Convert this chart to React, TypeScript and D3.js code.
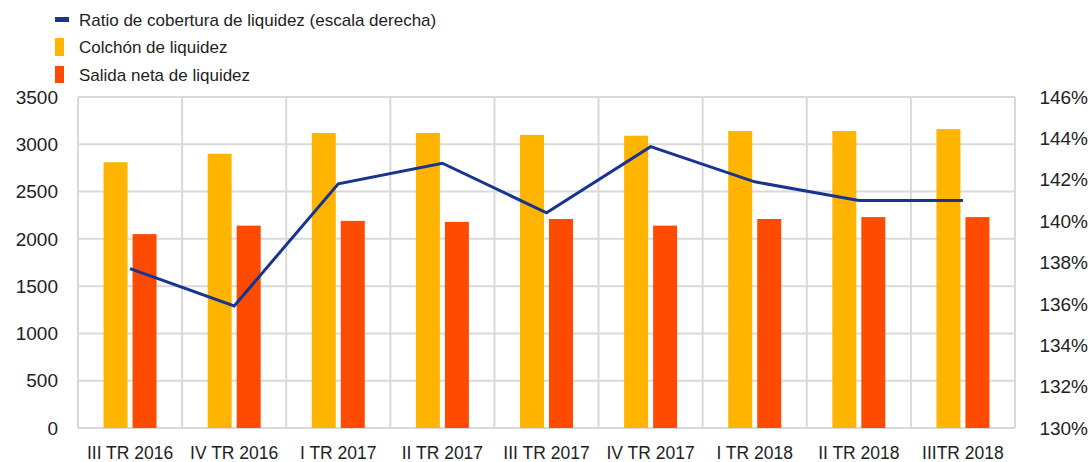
import React from "react";
import * as d3 from "d3";

const categories = [
  "III TR 2016",
  "IV TR 2016",
  "I TR 2017",
  "II TR 2017",
  "III TR 2017",
  "IV TR 2017",
  "I TR 2018",
  "II TR 2018",
  "IIITR 2018",
];
const colchon = [2810, 2900, 3120, 3120, 3100, 3090, 3140, 3140, 3160];
const salida = [2050, 2140, 2190, 2180, 2210, 2140, 2210, 2230, 2230];
const ratio = [137.7, 135.9, 141.8, 142.8, 140.4, 143.6, 141.9, 141.0, 141.0];
const leftTicks = [0, 500, 1000, 1500, 2000, 2500, 3000, 3500];
const rightTicks = [130, 132, 134, 136, 138, 140, 142, 144, 146];

const width = 1092;
const height = 462;
const margin = { top: 97, right: 77, bottom: 34, left: 78 };

const YELLOW = "#FFB400";
const RED = "#FF4B00";
const BLUE = "#17358f";
const GRID = "#d9d9d9";
const TEXT = "#222";
const FONT = "Liberation Sans, Arial, sans-serif";

export default function App() {
  const x = d3
    .scaleBand()
    .domain(categories)
    .range([margin.left, width - margin.right]);

  const y = d3
    .scaleLinear()
    .domain([0, 3500])
    .range([height - margin.bottom, margin.top]);

  const y2 = d3
    .scaleLinear()
    .domain([130, 146])
    .range([height - margin.bottom, margin.top]);

  const barW = 24;
  const gap = 5;
  const center = (c) => x(c) + x.bandwidth() / 2;

  const line = d3
    .line()
    .x((d, i) => center(categories[i]))
    .y((d) => y2(d));

  const bottom = height - margin.bottom;

  return (
    <svg
      width={width}
      height={height}
      style={{ position: "absolute", left: 0, top: 0, background: "#fff" }}
      fontFamily={FONT}
    >
      {/* grid */}
      {leftTicks.map((t) => (
        <line
          key={"h" + t}
          x1={margin.left}
          x2={width - margin.right}
          y1={y(t)}
          y2={y(t)}
          stroke={GRID}
          strokeWidth={2}
        />
      ))}
      {categories.map((c) => (
        <line
          key={"v" + c}
          x1={x(c)}
          x2={x(c)}
          y1={margin.top}
          y2={bottom}
          stroke={GRID}
          strokeWidth={2}
        />
      ))}
      <line
        x1={width - margin.right}
        x2={width - margin.right}
        y1={margin.top}
        y2={bottom}
        stroke={GRID}
        strokeWidth={2}
      />

      {/* bars */}
      {categories.map((c, i) => (
        <g key={"b" + c}>
          <rect
            x={center(c) - gap / 2 - barW}
            y={y(colchon[i])}
            width={barW}
            height={bottom - y(colchon[i])}
            fill={YELLOW}
          />
          <rect
            x={center(c) + gap / 2}
            y={y(salida[i])}
            width={barW}
            height={bottom - y(salida[i])}
            fill={RED}
          />
        </g>
      ))}

      <path d={line(ratio)} fill="none" stroke={BLUE} strokeWidth={3} />

      {/* left axis */}
      {leftTicks.map((t) => (
        <text
          key={"l" + t}
          x={58}
          y={y(t)}
          dy="0.35em"
          textAnchor="end"
          fontSize={19}
          fill={TEXT}
        >
          {t}
        </text>
      ))}
      {/* right axis */}
      {rightTicks.map((t) => (
        <text
          key={"r" + t}
          x={1088}
          y={y2(t)}
          dy="0.35em"
          textAnchor="end"
          fontSize={19}
          fill={TEXT}
        >
          {t + "%"}
        </text>
      ))}
      {/* x labels */}
      {categories.map((c) => (
        <text
          key={"x" + c}
          x={center(c)}
          y={bottom + 25}
          dy="0.35em"
          textAnchor="middle"
          fontSize={17.5}
          fill={TEXT}
        >
          {c}
        </text>
      ))}

      {/* legend */}
      <rect x={55} y={17} width={14} height={5} fill={BLUE} />
      <text x={79} y={20} dy="0.35em" fontSize={17} fill={TEXT}>
        Ratio de cobertura de liquidez (escala derecha)
      </text>
      <rect x={55} y={38} width={9} height={18} fill={YELLOW} />
      <text x={79} y={47} dy="0.35em" fontSize={17} fill={TEXT}>
        Colchón de liquidez
      </text>
      <rect x={55} y={66} width={9} height={17} fill={RED} />
      <text x={79} y={75} dy="0.35em" fontSize={17} fill={TEXT}>
        Salida neta de liquidez
      </text>
    </svg>
  );
}
